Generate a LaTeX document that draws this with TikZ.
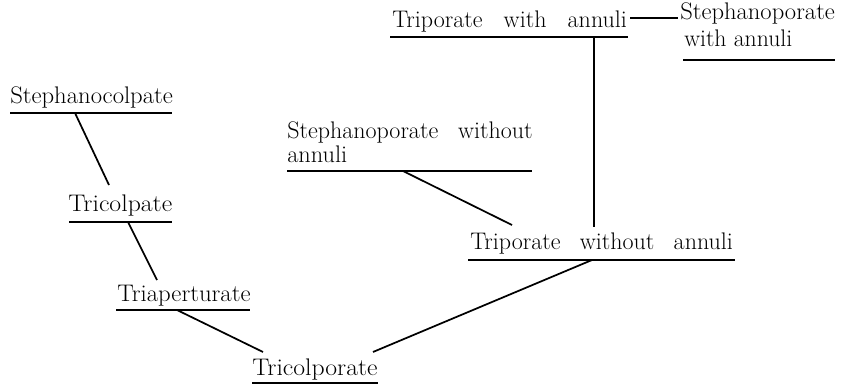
\documentclass[tikz,border=0pt]{standalone}
\usepackage{graphicx}
\newcommand{\fitw}[2]{\resizebox{#1}{\height}{#2}}
\begin{document}
\begin{tikzpicture}[x=0.75pt,y=-0.75pt,
  lbl/.style={anchor=base west,inner sep=0pt,font=\fontsize{18}{21}\selectfont},
  ul/.style={line width=1.7pt},
  link/.style={line width=1.3pt}]
\useasboundingbox (0,0) rectangle (847,385);
% labels
\node[lbl] (twa) at (392,28) {\makebox[176pt][s]{Triporate with annuli}};
\node[lbl] (swa1) at (680,20) {\fitw{116pt}{Stephanoporate}};
\node[lbl] (swa2) at (684,47) {\fitw{81pt}{with annuli}};
\node[lbl] (sc) at (10,104) {\fitw{122pt}{Stephanocolpate}};
\node[lbl] (tc) at (68,211) {\fitw{78pt}{Tricolpate}};
\node[lbl] (ta) at (117,301) {\fitw{100pt}{Triaperturate}};
\node[lbl] (tcp) at (252,375) {\fitw{94pt}{Tricolporate}};
\node[lbl] (swo1) at (287,139) {\makebox[184pt][s]{Stephanoporate without}};
\node[lbl] (swo2) at (287,163) {\fitw{45pt}{annuli}};
\node[lbl] (two) at (470,249) {\makebox[197pt][s]{Triporate without annuli}};
% underlines
\draw[ul] (390,37) coordinate (twaA) -- (628,37) coordinate (twaB);
\draw[ul] (683,60) coordinate (swaA) -- (835,60) coordinate (swaB);
\draw[ul] (10,113) coordinate (scA) -- (172,113) coordinate (scB);
\draw[ul] (69,222) coordinate (tcA) -- (172,222) coordinate (tcB);
\draw[ul] (116,310) coordinate (taA) -- (250,310) coordinate (taB);
\draw[ul] (252,383) coordinate (tcpA) -- (378,383) coordinate (tcpB);
\draw[ul] (287,171) coordinate (swoA) -- (532,171) coordinate (swoB);
\draw[ul] (468,260) coordinate (twoA) -- (735,260) coordinate (twoB);
% connector endpoints
\coordinate (sc-j) at (75,113);
\coordinate (tc-t) at (109,185);
\coordinate (tc-j) at (128,222);
\coordinate (ta-t) at (157,280);
\coordinate (ta-j) at (177,310);
\coordinate (tcp-l) at (263,352);
\coordinate (tcp-r) at (373,352);
\coordinate (two-j) at (592,260);
\coordinate (two-t) at (512,225);
\coordinate (swo-j) at (403,171);
\coordinate (twa-j) at (594,37);
\coordinate (two-v) at (594,227);
\coordinate (dashA) at (630,18);
\coordinate (dashB) at (678,18);
% connectors
\draw[link] (sc-j) -- (tc-t);
\draw[link] (tc-j) -- (ta-t);
\draw[link] (ta-j) -- (tcp-l);
\draw[link] (tcp-r) -- (two-j);
\draw[link] (swo-j) -- (two-t);
\draw[link] (twa-j) -- (two-v);
\draw[link] (dashA) -- (dashB);
\end{tikzpicture}
\end{document}
